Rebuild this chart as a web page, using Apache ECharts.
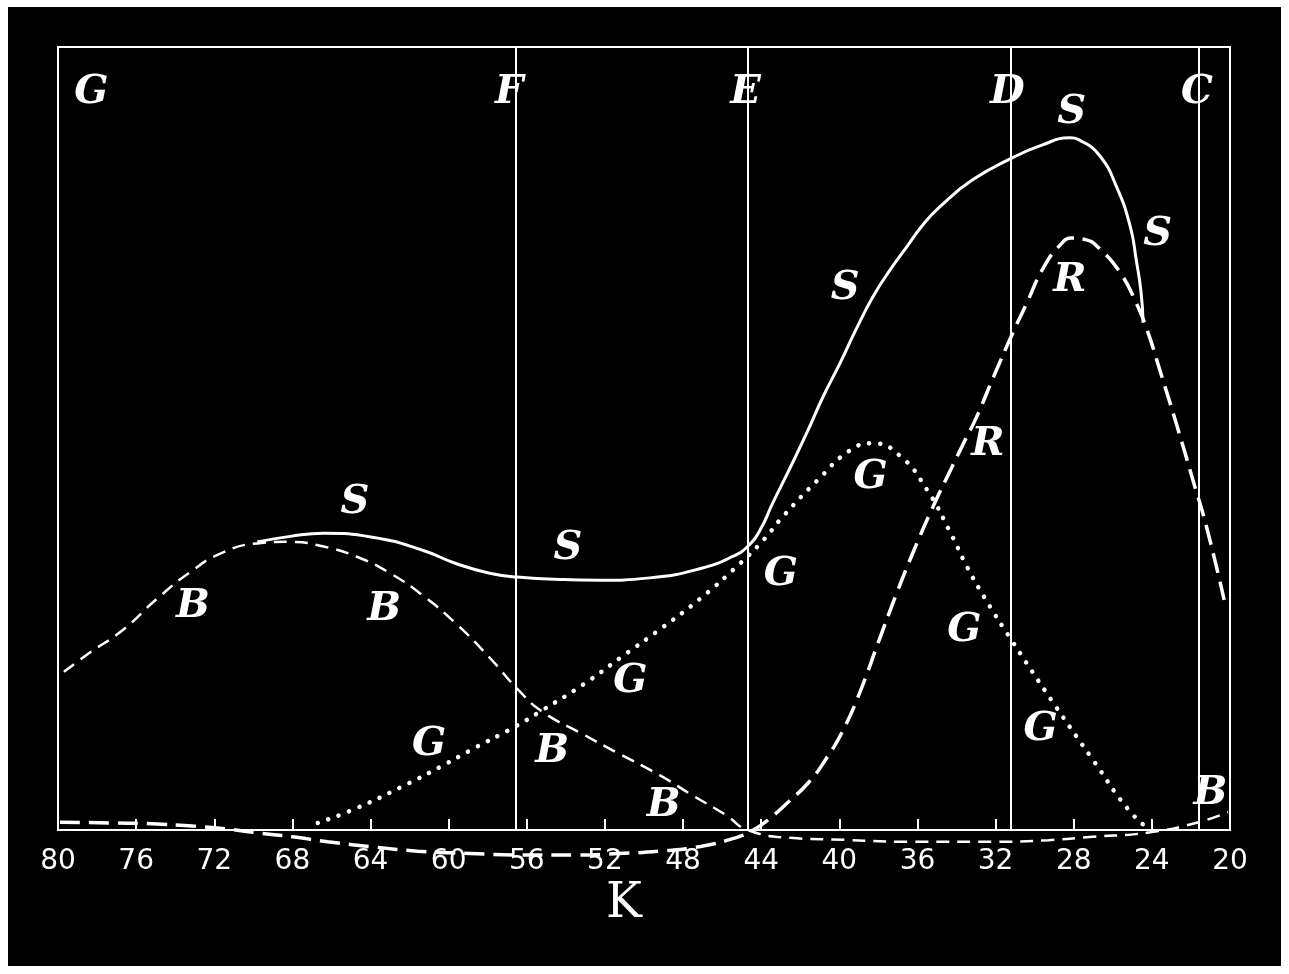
<!DOCTYPE html>
<html>
<head>
<meta charset="utf-8">
<script src="https://cdn.jsdelivr.net/npm/echarts@6/dist/echarts.min.js"></script>
<style>
  html, body { margin: 0; padding: 0; background: #ffffff; width: 1289px; height: 974px; overflow: hidden; }
  #chart { position: absolute; left: 8px; top: 7px; width: 1273px; height: 959px; background: #000; }
</style>
</head>
<body>
<div id="chart"></div>
<script>
// ---- Data (x = K scale value, y = relative ordinate, 0 = baseline, 100 = top of frame) ----
const xTicks = [80, 76, 72, 68, 64, 60, 56, 52, 48, 44, 40, 36, 32, 28, 24, 20];

const curveS = [
  [69.8, 36.8], [68.1, 37.5], [66.4, 37.9], [63.9, 37.4], [61.3, 35.7], [59.6, 34.0],
  [57.9, 32.8], [56.5, 32.3], [54.3, 32.0], [52.3, 31.9], [49.7, 32.2], [47.1, 33.4],
  [45.4, 35.0], [44.7, 36.2], [44.06, 38.3], [43.4, 41.8], [42.53, 46.2], [41.65, 50.8],
  [40.84, 55.3], [39.97, 59.6], [39.15, 63.9], [38.28, 68.1], [37.41, 71.5], [36.54, 74.5],
  [35.72, 77.3], [34.85, 79.6], [33.2, 83.0], [31.1, 85.9], [29.7, 87.4],
  [28.2, 88.4], [27.7, 88.1], [26.7, 86.2], [25.8, 82.1], [25.1, 77.0], [24.8, 72.8],
  [24.55, 68.6], [24.45, 64.8]
];

const curveB = [
  [79.7, 20.2], [78.4, 22.6], [76.7, 25.5], [74.9, 29.6], [73.2, 33.0], [71.6, 35.4],
  [69.8, 36.6], [68.1, 36.8], [66.4, 36.2], [64.7, 34.9], [63.0, 32.8], [61.3, 29.9],
  [59.6, 26.3], [57.9, 22.0], [56.4, 17.8], [55.2, 15.1], [53.1, 12.2], [51.4, 9.9],
  [49.2, 7.0], [47.5, 4.4], [45.8, 1.9], [44.7, 0.0], [42.5, -1.0], [40.4, -1.2],
  [36.2, -1.5], [32.2, -1.5], [29.3, -1.3], [27.2, -0.9], [24.1, -0.3], [21.6, 1.0],
  [20.1, 2.3]
];

const curveG = [
  [66.7, 0.9], [64.7, 2.8], [62.1, 5.9], [60.4, 8.1], [58.8, 10.3], [56.6, 13.2],
  [55.2, 15.3], [53.1, 18.6], [51.1, 22.2], [49.2, 25.6], [47.1, 29.6], [45.1, 34.0],
  [43.9, 37.0], [42.9, 40.0], [41.1, 44.7], [39.5, 48.4], [38.3, 49.4], [36.9, 47.8],
  [35.5, 43.4], [34.3, 37.9], [33.5, 33.8], [32.5, 29.4], [31.2, 24.3], [28.9, 15.7],
  [27.0, 8.9], [25.2, 2.6], [24.1, 0.0]
];

const curveR = [
  [79.9, 1.0], [77.2, 0.9], [75.2, 0.8], [73.1, 0.5], [71.6, 0.2], [70.0, -0.3],
  [67.9, -0.9], [66.2, -1.5], [63.7, -2.2], [61.6, -2.7], [58.9, -3.0], [56.4, -3.2],
  [53.6, -3.2], [51.3, -3.0], [49.2, -2.7], [47.1, -2.1], [45.2, -0.9], [44.4, 0.0],
  [43.7, 1.2], [42.6, 3.6], [41.6, 6.0], [40.7, 9.0], [39.8, 12.8], [38.9, 17.9], [38.0, 24.0],
  [37.1, 30.0], [36.2, 35.6], [35.2, 41.3], [34.3, 46.0], [33.6, 49.6], [33.0, 52.6],
  [32.1, 57.9], [31.1, 63.6], [30.4, 67.3], [29.6, 71.6], [28.7, 74.7], [28.1, 75.6],
  [27.4, 75.4], [26.7, 74.3], [25.6, 71.1], [24.8, 67.3], [24.25, 63.9], [23.6, 58.8],
  [22.7, 51.5], [21.9, 44.7], [21.2, 38.7], [20.3, 29.4]
];

// Boundary lines of the spectrum regions
const regionLines = [56.55, 44.67, 31.2, 21.6];

// Letter annotations: [letter, x, y]
const letters = [
  ['G', 78.3, 94.2], ['F', 56.9, 94.2], ['E', 44.8, 94.2], ['D', 31.4, 94.2], ['C', 21.7, 94.2],
  ['S', 64.8, 41.8], ['S', 53.9, 36.0], ['S', 39.7, 69.2], ['S', 28.1, 91.6], ['S', 23.7, 76.0],
  ['B', 73.1, 28.5], ['B', 63.3, 28.1], ['B', 54.7, 10.0], ['B', 49.0, 3.1], ['B', 21.0, 4.7],
  ['G', 61.0, 10.9], ['G', 50.7, 18.9], ['G', 43.0, 32.6], ['G', 38.4, 45.0], ['G', 33.6, 25.5], ['G', 29.7, 12.8],
  ['R', 28.2, 70.2], ['R', 32.4, 49.2]
];

const axisTitle = 'K';

// ---- Chart ----
const chart = echarts.init(document.getElementById('chart'));
const W = '#ffffff';

function lineSeries(name, data, style) {
  return {
    name: name,
    type: 'line',
    data: data,
    smooth: 0.5,
    showSymbol: false,
    symbol: 'none',
    clip: false,
    silent: true,
    z: 3,
    lineStyle: Object.assign({ color: W, opacity: 1 }, style)
  };
}

const option = {
  backgroundColor: '#000000',
  animation: false,
  grid: {
    left: 50, right: 51, top: 40, bottom: 136,
    show: true, borderColor: W, borderWidth: 2, backgroundColor: 'transparent'
  },
  xAxis: {
    type: 'value',
    min: 20, max: 80, interval: 4,
    inverse: true,
    name: axisTitle,
    nameLocation: 'middle',
    nameGap: 50,
    nameTextStyle: {
      color: W, fontFamily: 'DejaVu Serif', fontSize: 48, padding: [0, 40, 0, 0]
    },
    axisLine: { show: true, lineStyle: { color: W, width: 2 } },
    axisTick: { show: true, inside: true, length: 11, lineStyle: { color: W, width: 2 } },
    axisLabel: {
      color: W, fontFamily: 'DejaVu Sans', fontSize: 28, margin: 18,
      formatter: function (v) { return xTicks.indexOf(v) >= 0 ? String(v) : ''; }
    },
    splitLine: { show: false }
  },
  yAxis: {
    type: 'value', min: 0, max: 100, show: false
  },
  series: [
    Object.assign(lineSeries('S', curveS, { width: 3, type: 'solid' }), {
      markLine: {
        silent: true,
        symbol: ['none', 'none'],
        label: { show: false },
        lineStyle: { color: W, width: 2, type: 'solid', opacity: 1 },
        data: regionLines.map(function (v) { return { xAxis: v }; })
      }
    }),
    lineSeries('B', curveB, { width: 2.5, type: [13, 8] }),
    lineSeries('G', curveG, { width: 4.5, type: [0.1, 11], cap: 'round' }),
    lineSeries('R', curveR, { width: 3.5, type: [20, 9] }),
    {
      name: 'letters',
      type: 'scatter',
      symbolSize: 1,
      silent: true,
      z: 5,
      itemStyle: { opacity: 0 },
      data: letters.map(function (l) { return { name: l[0], value: [l[1], l[2]] }; }),
      label: {
        show: true,
        position: 'inside',
        formatter: '{b}',
        color: W,
        opacity: 1,
        fontFamily: 'DejaVu Serif',
        fontStyle: 'italic',
        fontWeight: 'bold',
        fontSize: 40
      }
    }
  ]
};

chart.setOption(option);
</script>
</body>
</html>
